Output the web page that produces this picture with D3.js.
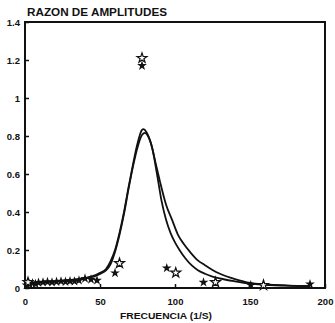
<!DOCTYPE html>
<html>
<head>
<meta charset="utf-8">
<script src="https://cdn.jsdelivr.net/npm/d3@7"></script>
<style>
  body { margin: 0; background: #fff; }
  text { font-family: "Liberation Sans", Arial, sans-serif; font-weight: bold; fill: #111; }
</style>
</head>
<body>
<div id="chart"></div>
<script>
var freqTicks = [0, 50, 100, 150, 200];
var ampTicks = [0, 0.2, 0.4, 0.6, 0.8, 1, 1.2, 1.4];

// outer curve (higher peak)
var curveAFreq = [0, 5, 10, 20, 30, 40, 45, 50, 54, 57, 60, 63, 66, 69, 72, 75, 78, 79, 81, 84, 87, 90, 94, 98, 102, 106, 110, 115, 120, 125, 130, 140, 150, 160, 175, 190];
var curveAAmp  = [0.02, 0.025, 0.03, 0.036, 0.042, 0.052, 0.062, 0.08, 0.1, 0.14, 0.2, 0.29, 0.40, 0.53, 0.65, 0.76, 0.832, 0.836, 0.82, 0.76, 0.66, 0.56, 0.44, 0.36, 0.28, 0.23, 0.19, 0.147, 0.12, 0.095, 0.075, 0.047, 0.027, 0.019, 0.013, 0.01];

// inner curve (lower peak)
var curveBFreq = [0, 5, 10, 20, 30, 40, 45, 50, 54, 57, 60, 63, 66, 69, 72, 75, 78, 80, 82, 85, 88, 91, 94, 97, 100, 103, 107, 111, 115, 120, 125, 130, 140, 150, 160, 175, 190];
var curveBAmp  = [0.02, 0.024, 0.028, 0.034, 0.04, 0.05, 0.058, 0.074, 0.093, 0.125, 0.19, 0.28, 0.39, 0.52, 0.64, 0.74, 0.805, 0.816, 0.80, 0.73, 0.6, 0.46, 0.36, 0.29, 0.24, 0.2, 0.155, 0.12, 0.095, 0.075, 0.06, 0.05, 0.035, 0.023, 0.017, 0.012, 0.01];

// measured points
var filledFreq = [1, 3, 5, 7, 9, 12, 15, 18, 21, 24, 27, 30, 33, 36, 40, 44, 48, 60, 78, 94.5, 119, 150.5, 190];
var filledAmp  = [0.015, 0.02, 0.025, 0.022, 0.028, 0.03, 0.032, 0.03, 0.033, 0.035, 0.033, 0.036, 0.035, 0.04, 0.05, 0.045, 0.04, 0.079, 1.17, 0.105, 0.03, 0.015, 0.02];
var openFreq = [2, 63, 78, 100.5, 127, 159];
var openAmp  = [0.03, 0.13, 1.21, 0.08, 0.03, 0.015];

var margin = {top: 22, right: 10, bottom: 35, left: 25},
    width = 335 - margin.left - margin.right,
    height = 323 - margin.top - margin.bottom;

var svg = d3.select("#chart").append("svg")
    .attr("width", 335)
    .attr("height", 323)
  .append("g")
    .attr("transform", "translate(" + margin.left + "," + margin.top + ")");

var x = d3.scaleLinear().domain([0, 200]).range([0, width]);
var y = d3.scaleLinear().domain([0, 1.4]).range([height, 0]);

// frame
svg.append("rect")
    .attr("width", width)
    .attr("height", height)
    .attr("fill", "none")
    .attr("stroke", "#111")
    .attr("stroke-width", 2);

var gx = svg.append("g")
    .attr("transform", "translate(0," + height + ")")
    .call(d3.axisBottom(x).tickValues(freqTicks).tickSize(-4).tickPadding(10).tickFormat(d3.format("d")));
gx.select(".domain").remove();
gx.selectAll("line").attr("stroke", "#111").attr("stroke-width", 1.5);
gx.selectAll("text").style("font-size", "9.5px");

var gy = svg.append("g")
    .call(d3.axisLeft(y).tickValues(ampTicks).tickSize(-4).tickPadding(5).tickFormat(function(d) { return d === 0 || d === 1 ? d : d3.format(".1f")(d); }));
gy.select(".domain").remove();
gy.selectAll("line").attr("stroke", "#111").attr("stroke-width", 1.5);
gy.selectAll("text").style("font-size", "9.5px");

svg.append("text")
    .attr("x", 2)
    .attr("y", -6)
    .attr("textLength", 140)
    .attr("lengthAdjust", "spacingAndGlyphs")
    .style("font-size", "10px")
    .text("RAZON DE AMPLITUDES");

svg.append("text")
    .attr("x", 95)
    .attr("y", height + 31)
    .attr("textLength", 92)
    .attr("lengthAdjust", "spacingAndGlyphs")
    .style("font-size", "9.5px")
    .text("FRECUENCIA (1/S)");

var line = d3.line()
    .x(function(d) { return x(d[0]); })
    .y(function(d) { return y(d[1]); })
    .curve(d3.curveMonotoneX);

[[curveAFreq, curveAAmp], [curveBFreq, curveBAmp]].forEach(function(c) {
  svg.append("path")
      .datum(c[0].map(function(f, i) { return [f, c[1][i]]; }))
      .attr("d", line)
      .attr("fill", "none")
      .attr("stroke", "#111")
      .attr("stroke-width", 1.8);
});

var star = d3.symbol().type(d3.symbolStar).size(30);

svg.selectAll(".filled")
    .data(filledFreq.map(function(f, i) { return [f, filledAmp[i]]; }))
  .enter().append("path")
    .attr("class", "filled")
    .attr("d", star)
    .attr("transform", function(d) { return "translate(" + x(d[0]) + "," + y(d[1]) + ")"; })
    .attr("fill", "#111");

svg.selectAll(".open")
    .data(openFreq.map(function(f, i) { return [f, openAmp[i]]; }))
  .enter().append("path")
    .attr("class", "open")
    .attr("d", star)
    .attr("transform", function(d) { return "translate(" + x(d[0]) + "," + y(d[1]) + ")"; })
    .attr("fill", "#fff")
    .attr("stroke", "#111")
    .attr("stroke-width", 1.2);
</script>
</body>
</html>
